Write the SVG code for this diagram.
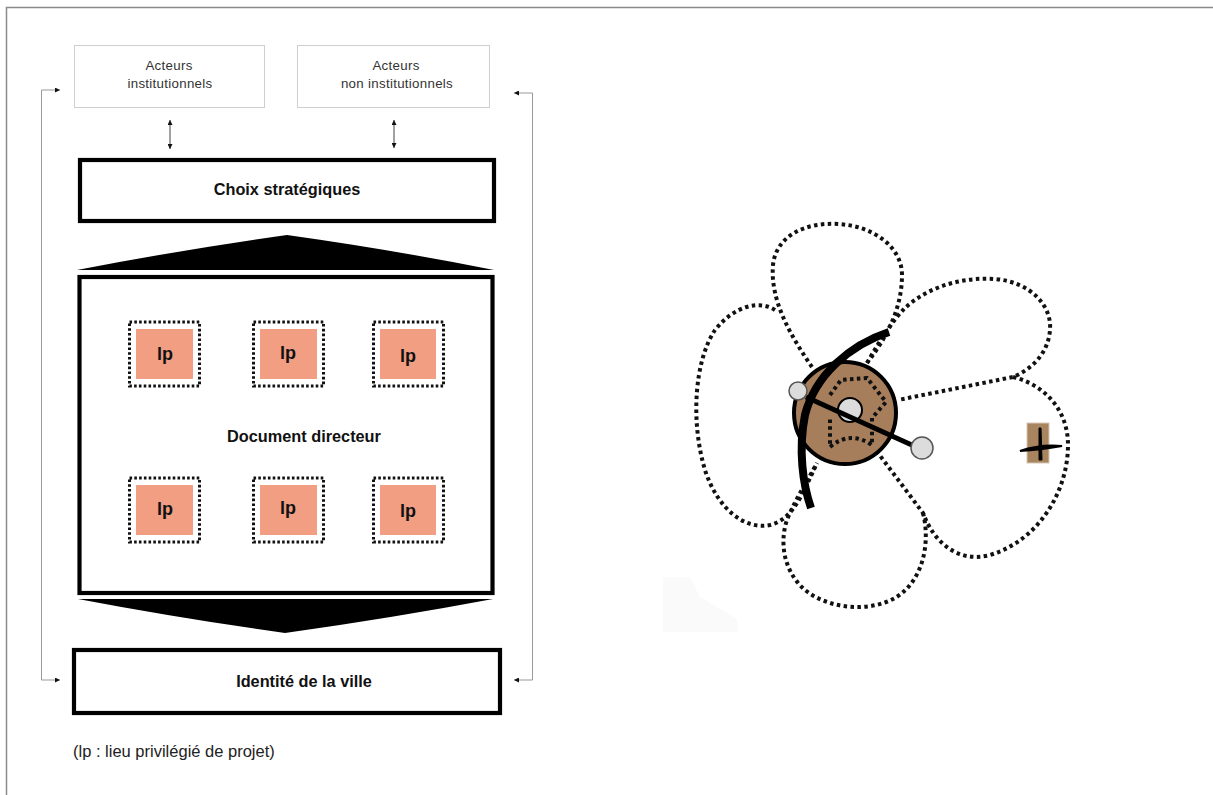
<svg xmlns="http://www.w3.org/2000/svg" width="1213" height="795" viewBox="0 0 1213 795">
<style>
.frame{fill:none;stroke:#8a8a8a;stroke-width:1.5}
.actor{fill:#fff;stroke:#cfcfcf;stroke-width:1}
.actxt{font-family:"Liberation Sans",Arial,sans-serif;font-size:13.3px;fill:#333;text-anchor:middle;letter-spacing:0.3px}
.bold{fill:#fff;stroke:#000;stroke-width:4.2}
.btxt{font-family:"Liberation Sans",Arial,sans-serif;font-size:16.3px;font-weight:bold;fill:#111;text-anchor:middle}
.lpout{fill:none;stroke:#111;stroke-width:3;stroke-dasharray:2.6 2.2}
.lpin{fill:#f29e83}
.lptxt{font-family:"Liberation Sans",Arial,sans-serif;font-size:18px;font-weight:bold;fill:#111;text-anchor:middle}
.thin{fill:none;stroke:#111;stroke-width:0.8}
.fb{fill:none;stroke:#999;stroke-width:1}
.petal{fill:none;stroke:#111;stroke-width:4;stroke-dasharray:3.5 3.4}
.legend{font-family:"Liberation Sans",Arial,sans-serif;font-size:16.5px;fill:#222}
</style>
<defs>
<marker id="ah" viewBox="0 0 6 6" refX="6" refY="3" markerWidth="5" markerHeight="5" markerUnits="userSpaceOnUse" orient="auto-start-reverse">
<path d="M0 0 L6 3 L0 6 Z" fill="#111"/>
</marker>
</defs>
<rect width="1213" height="795" fill="#fff"/>
<path class="frame" d="M6.5 795 L6.5 7.5 L1213 7.5"/>

<g id="acteurs-institutionnels">
<rect class="actor" x="74.5" y="45.5" width="190" height="62"/>
<text class="actxt" x="169" y="70">Acteurs</text>
<text class="actxt" x="170" y="88">institutionnels</text>
</g>
<g id="acteurs-non-institutionnels">
<rect class="actor" x="297.5" y="45.5" width="192" height="62"/>
<text class="actxt" x="396" y="70">Acteurs</text>
<text class="actxt" x="397" y="88">non institutionnels</text>
</g>
<g id="choix-strategiques">
<rect class="bold" x="80" y="160" width="414" height="61"/>
<text class="btxt" x="287" y="195">Choix stratégiques</text>
</g>
<g id="triangle-haut">
<path d="M77 270 Q180 250 287 235 Q394 250 494 270 Z" fill="#000"/>
</g>
<g id="document-directeur">
<rect class="bold" x="79.5" y="277" width="413" height="316"/>
<text class="btxt" x="304" y="442">Document directeur</text>
</g>
<g id="lp-1"><rect class="lpout" x="129.5" y="322" width="70" height="64"/><rect class="lpin" x="136" y="329" width="57" height="50"/><text class="lptxt" x="165" y="360">lp</text></g>
<g id="lp-2"><rect class="lpout" x="253.5" y="322" width="70" height="64"/><rect class="lpin" x="260" y="329" width="57" height="50"/><text class="lptxt" x="288" y="359">lp</text></g>
<g id="lp-3"><rect class="lpout" x="373.5" y="322" width="70" height="64"/><rect class="lpin" x="380" y="329" width="56" height="50"/><text class="lptxt" x="408" y="362">lp</text></g>
<g id="lp-4"><rect class="lpout" x="129.5" y="478" width="70" height="64"/><rect class="lpin" x="136" y="485" width="57" height="50"/><text class="lptxt" x="165" y="515">lp</text></g>
<g id="lp-5"><rect class="lpout" x="253.5" y="478" width="70" height="64"/><rect class="lpin" x="260" y="485" width="57" height="50"/><text class="lptxt" x="288" y="514">lp</text></g>
<g id="lp-6"><rect class="lpout" x="373.5" y="478" width="70" height="64"/><rect class="lpin" x="380" y="485" width="56" height="50"/><text class="lptxt" x="408" y="517">lp</text></g>
<g id="triangle-bas">
<path d="M78 599 L493 599 Q392 618 285 633 Q178 618 78 599 Z" fill="#000"/>
</g>
<g id="identite-de-la-ville">
<rect class="bold" x="74" y="650" width="426" height="63"/>
<text class="btxt" x="304" y="687">Identité de la ville</text>
</g>

<g id="connectors">
<line class="thin" x1="170" y1="120" x2="170" y2="149" marker-start="url(#ah)" marker-end="url(#ah)"/>
<line class="thin" x1="394" y1="120" x2="394" y2="148" marker-start="url(#ah)" marker-end="url(#ah)"/>
<polyline class="fb" points="60,90 41.5,90 41.5,680 60,680" marker-start="url(#ah)" marker-end="url(#ah)"/>
<polyline class="fb" points="514,93 532.5,93 532.5,680 514,680" marker-start="url(#ah)" marker-end="url(#ah)"/>
</g>

<g id="legende">
<text class="legend" x="73" y="757">(lp : lieu privilégié de projet)</text>
</g>

<g id="fleur">
<path d="M663 577 L690 577 L700 597 L737 619 L738 632 L663 632 Z" fill="#fafafa"/>
<path class="petal" d="M812 367 C790 335 770 300 773 265 C776 236 805 222 838 224 C875 226 902 248 902 275 C902 310 885 340 867 363"/>
<path class="petal" d="M775 310 C760 300 735 305 715 330 C695 360 690 420 705 470 C718 510 745 530 770 525 C790 520 800 500 810 478 L817 463"/>
<path class="petal" d="M867 363 C880 340 893 320 905 308 C930 285 965 277 995 279 C1030 282 1052 305 1050 330 C1048 355 1030 370 1013 377 L898 400"/>
<path class="petal" d="M1013 377 C1045 385 1068 410 1068 445 C1068 490 1040 540 990 555 C960 563 935 545 923 513 L878 453"/>
<path class="petal" d="M923 513 C930 540 925 580 895 598 C870 612 830 610 805 590 C782 570 780 540 787 520 C795 500 805 485 817 463"/>
<circle cx="845" cy="413" r="51" fill="#a67e5b" stroke="#000" stroke-width="4"/>
<path class="petal" stroke-width="3.2" d="M830 395 L841 380 L867 378 L886 402 L872 418 L872 445 Q850 430 830 447 L830 417"/>
<circle cx="850" cy="410" r="12" fill="#dcdcdc" stroke="#000" stroke-width="2"/>
<line x1="806" y1="397" x2="914" y2="446" stroke="#000" stroke-width="5"/>
<circle cx="798" cy="391" r="9" fill="#dcdcdc" stroke="#555" stroke-width="1.5"/>
<circle cx="922" cy="448" r="11" fill="#dcdcdc" stroke="#555" stroke-width="1.5"/>
<path d="M889 332 C850 345 815 375 805 415 C798 450 803 485 811 508" fill="none" stroke="#000" stroke-width="8"/>
</g>

<g id="avion">
<rect x="1027" y="423" width="22" height="40" fill="#a8845f" stroke="#d8c8b8" stroke-width="1"/>
<path d="M1020 451 Q1040 444 1062 446 Q1040 450 1020 451 Z" fill="#000" stroke="#000" stroke-width="2"/>
<path d="M1039 428 L1041 428 L1042 460 L1039 460 Z" fill="#000" stroke="#000" stroke-width="1"/>
</g>
</svg>
